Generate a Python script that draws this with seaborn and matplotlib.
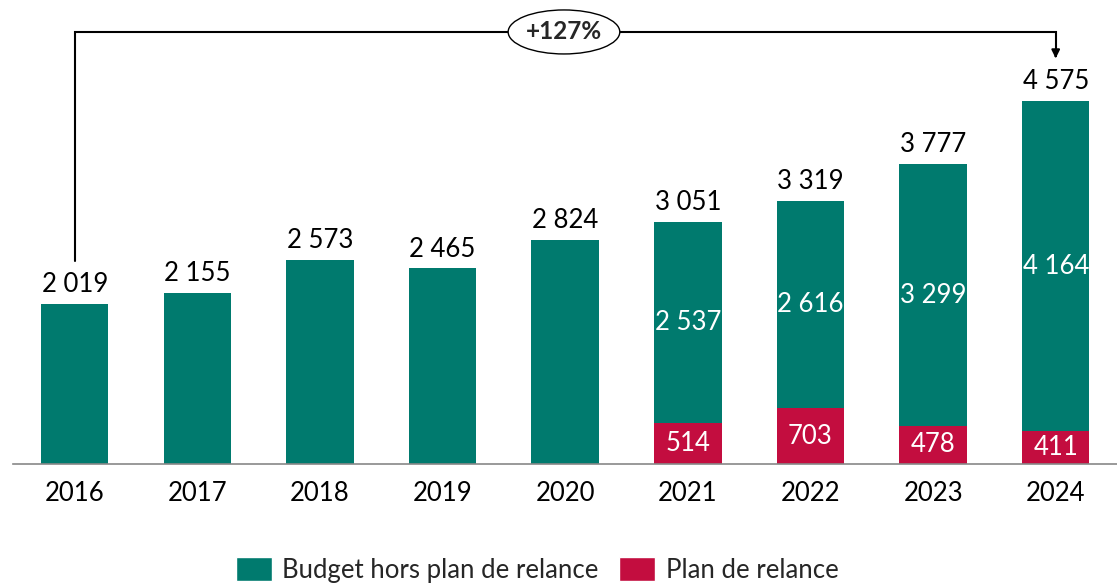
import matplotlib
matplotlib.use("Agg")
import matplotlib.pyplot as plt
import seaborn as sns
import pandas as pd
from matplotlib.patches import Ellipse, Patch

years = ["2016", "2017", "2018", "2019", "2020", "2021", "2022", "2023", "2024"]
budget_hors_plan = [2019, 2155, 2573, 2465, 2824, 2537, 2616, 3299, 4164]
plan_relance = [0, 0, 0, 0, 0, 514, 703, 478, 411]
growth_label = "+127%"

TEAL = "#007A6E"
RED = "#C30D3F"

totals = [b + p for b, p in zip(budget_hors_plan, plan_relance)]
df = pd.DataFrame({"year": years, "total": totals, "plan": plan_relance,
                   "budget": budget_hors_plan})

sns.set_theme(style="white")
plt.rcParams["font.family"] = ["Lato", "DejaVu Sans"]

fig = plt.figure(figsize=(11.17, 5.88), dpi=100)
ax = fig.add_axes([0.012, 0.211, 0.988, 0.789])

sns.barplot(data=df, x="year", y="total", color=TEAL, width=0.55,
            saturation=1, ax=ax, errorbar=None, linewidth=0)
sns.barplot(data=df, x="year", y="plan", color=RED, width=0.55,
            saturation=1, ax=ax, errorbar=None, linewidth=0)

def fmt(v):
    return f"{v:,}".replace(",", " ")

fs = 18.5
for i, (b, p, t) in enumerate(zip(budget_hors_plan, plan_relance, totals)):
    ax.annotate(fmt(t), (i, t), xytext=(0, 5), textcoords="offset points",
                ha="center", va="bottom", fontsize=fs, color="black")
    if p > 0:
        ax.text(i, p + b / 2, fmt(b), ha="center", va="center",
                fontsize=fs, color="white")
        ax.text(i, p / 2, fmt(p), ha="center", va="center",
                fontsize=fs, color="white")

ax.set_xlim(-0.5, 8.5)
ax.set_ylim(0, 5850)
ax.set_xlabel("")
ax.set_ylabel("")
ax.set_yticks([])
for s in ["left", "right", "top"]:
    ax.spines[s].set_visible(False)
ax.spines["bottom"].set_color("#888888")
ax.spines["bottom"].set_linewidth(1.2)
ax.tick_params(axis="x", length=0, pad=12, labelsize=fs, colors="black")

# bracket annotation
ytop = 5447
ax.plot([0, 0, 8, 8], [2560, ytop, ytop, 5160], color="black", lw=1.5,
        solid_joinstyle="miter", clip_on=False)
ax.annotate("", xy=(8, 5080), xytext=(8, 5200),
            arrowprops=dict(arrowstyle="-|>", color="black", lw=1.5,
                            mutation_scale=12), annotation_clip=False)
ell = Ellipse((3.99, ytop), width=112 / 123, height=44 / 0.0793,
              facecolor="white", edgecolor="black", lw=1.0, clip_on=False,
              zorder=5)
ax.add_patch(ell)
ax.text(3.99, ytop, growth_label, ha="center", va="center", fontsize=17.5,
        fontweight="bold", zorder=6)

handles = [Patch(facecolor=TEAL, label="Budget hors plan de relance"),
           Patch(facecolor=RED, label="Plan de relance")]
fig.legend(handles=handles, loc="center", bbox_to_anchor=(0.481, 0.031),
           ncol=2, frameon=False, fontsize=fs, handlelength=1.4,
           handleheight=1.1, handletextpad=0.4, columnspacing=0.8)

fig.savefig("out.png", dpi=100)
